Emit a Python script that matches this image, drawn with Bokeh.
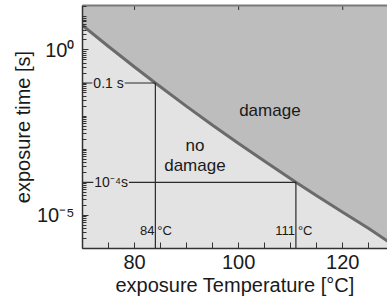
import math
from bokeh.plotting import figure
from bokeh.models import Range1d, FixedTicker, CustomJSTickFormatter, LinearAxis, ColumnDataSource
from bokeh.core.properties import value
from bokeh.embed import file_html
from bokeh.resources import INLINE

# threshold curve (exposure temperature [°C] vs exposure time [s])
curve_temp = [70, 75, 80, 84, 90, 95, 100, 105, 111, 115, 120, 125, 130]
curve_time = [5.5, 1.27, 0.305, 0.1, 0.0197, 0.0053, 0.00148, 4.3e-4, 1e-4, 3.9e-5, 1.24e-5, 4.0e-6, 1.2e-6]

# marked thresholds
mark_temp = [84, 111]
mark_time = [0.1, 1e-4]
mark_time_label = ["0.1 s", "10\u207b\u2074s"]
mark_temp_label = ["84", "111"]

x_major = [80, 100, 120]
x_minor = [70, 75, 85, 90, 95, 105, 110, 115, 125]
y_major = [1, 1e-5]
y_decades = [1e-6, 1e-5, 1e-4, 1e-3, 1e-2, 1e-1, 1, 10]

X0, X1 = 70, 128.6
Y0, Y1 = 1e-6, 22
FONT = "Liberation Sans"
BG = "#e3e3e3"
DMG = "#bdbdbd"

p = figure(width=387, height=308, x_axis_type="linear", y_axis_type="log",
           x_range=Range1d(X0, X1), y_range=Range1d(Y0, Y1),
           output_backend="svg", toolbar_location=None,
           min_border_left=82, min_border_right=0, min_border_top=5, min_border_bottom=60)

p.background_fill_color = BG
p.border_fill_color = "white"
p.outline_line_color = None
p.grid.visible = False

# damage region above the curve
p.varea(x=curve_temp, y1=curve_time, y2=[1e3] * len(curve_time), fill_color=DMG)
p.line(curve_temp, curve_time, line_color="#6b6b6b", line_width=3)

# marker lines
src = ColumnDataSource(dict(t=mark_temp, s=mark_time, tl=mark_time_label, nl=mark_temp_label,
                            x0=[X0] * 2, y0=[Y0] * 2, deg=["\u00b0C"] * 2,
                            ty=[3.6e-6] * 2, lx=[75, 75.5]))
p.segment(x0="x0", y0="s", x1="t", y1="s", source=src, line_color="#2a2a2a", line_width=1.2)
p.segment(x0="t", y0="y0", x1="t", y1="s", source=src, line_color="#2a2a2a", line_width=1.2)

# time labels on the horizontal lines
p.text(x="lx", y="s", text="tl", source=src, text_align="center", text_baseline="middle",
       text_font=value(FONT), text_font_size="14px", text_color="#1a1a1a",
       background_fill_color=BG, padding=1)

# temperature labels at the bottom
p.text(x="t", y="ty", text="nl", source=src, text_align="right", text_baseline="middle",
       x_offset=-1, text_font=value(FONT), text_font_size="13px", text_color="#1a1a1a")
p.text(x="t", y="ty", text="deg", source=src, text_align="left", text_baseline="middle",
       x_offset=2, text_font=value(FONT), text_font_size="13px", text_color="#1a1a1a")

# region labels
p.text(x=[106], y=[0.015], text=["damage"], text_align="center", text_baseline="middle",
       text_font=value(FONT), text_font_size="17px", text_color="#1a1a1a")
p.text(x=[91.6], y=[6.5e-4], text=["no\ndamage"], text_align="center", text_baseline="middle",
       text_font=value(FONT), text_font_size="17px", text_color="#1a1a1a", text_line_height=1.05)

# top border ticks
p.scatter(x=x_major, y=[Y1] * len(x_major), marker="dash", angle=math.pi / 2, size=9,
          line_color="#333333", line_width=1)

# axes
xa = p.xaxis[0]
xa.ticker = FixedTicker(ticks=x_major, minor_ticks=x_minor)
xa.axis_label = "exposure Temperature [\u00b0C]"
yl = p.yaxis[0]
yl.ticker = FixedTicker(ticks=y_major,
                        minor_ticks=[k * d for d in y_decades for k in range(1, 10)])
yl.formatter = CustomJSTickFormatter(code="""
const e = Math.round(Math.log10(tick));
if (e === 0) return "10\u2070";
return "10\u207b" + "\u2070\u00b9\u00b2\u00b3\u2074\u2075\u2076\u2077\u2078\u2079"[-e];
""")
yl.axis_label = "exposure time [s]"

for ax in [xa, yl]:
    ax.major_tick_in = 6
    ax.major_tick_out = 0
    ax.minor_tick_out = 0
    ax.axis_line_color = "#333333"
    ax.major_tick_line_color = "#333333"
    ax.minor_tick_line_color = "#333333"
    ax.axis_line_width = 1.5
    ax.major_label_text_font = FONT
    ax.major_label_text_font_size = "20px"
    ax.major_label_text_color = "#1a1a1a"
    ax.axis_label_text_font = FONT
    ax.axis_label_text_font_size = "20px"
    ax.axis_label_text_font_style = "normal"
    ax.axis_label_text_color = "#1a1a1a"
xa.minor_tick_in = 6
yl.minor_tick_in = 4
xa.major_label_standoff = 6
xa.axis_label_standoff = 2
yl.major_label_standoff = 8
yl.axis_label_standoff = 0

# top border line
top = LinearAxis(ticker=FixedTicker(ticks=[]), axis_line_color="#7a7a7a", axis_line_width=2,
                 major_tick_in=0, major_tick_out=0, minor_tick_in=0, minor_tick_out=0,
                 major_label_standoff=0)
p.add_layout(top, "above")

open("out.html", "w").write(file_html(p, INLINE))
